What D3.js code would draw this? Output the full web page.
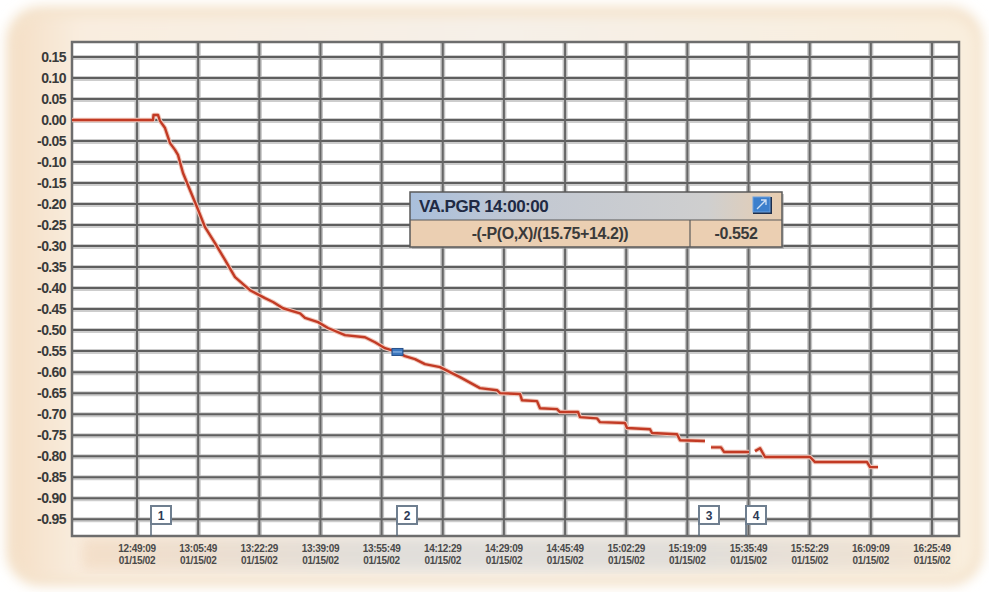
<!DOCTYPE html>
<html><head><meta charset="utf-8">
<script src="https://cdn.jsdelivr.net/npm/d3@7"></script>
<style>
html,body{margin:0;padding:0;background:#fff;}
svg{display:block;}
</style></head>
<body>
<svg id="chart" width="989" height="592"></svg>
<script>
// ---------- data ----------
const times = ["12:31:26","12:53:31","12:53:39","12:54:52","12:55:25","12:56:47","12:58:09","12:59:30","13:00:19","13:01:41",
"13:03:36","13:05:30","13:07:41","13:10:25","13:13:08","13:15:52","13:19:57","13:24:02","13:26:13","13:28:57",
"13:33:35","13:34:56","13:38:29","13:41:12","13:45:50","13:51:17","13:54:01","13:56:45","14:00:00","14:02:12",
"14:04:55","14:07:39","14:11:44","14:14:27","14:17:11","14:22:38","14:27:16","14:28:05","14:33:32","14:34:05",
"14:38:10","14:38:59","14:43:37","14:44:26","14:49:21","14:49:53","14:54:31","14:55:20","15:02:09","15:02:42",
"15:08:58","15:09:31","15:16:20","15:17:09","15:23:57","15:24:30","15:25:35","15:28:19","15:29:08","15:35:57",
"15:36:46","15:37:35","15:38:57","15:40:19","15:52:35","15:53:56","16:08:07","16:08:56","16:11:07"];
const values = [0.000,0.000,0.012,0.012,-0.002,-0.019,-0.055,-0.071,-0.083,-0.126,
-0.167,-0.207,-0.255,-0.293,-0.333,-0.374,-0.405,-0.424,-0.433,-0.448,
-0.460,-0.471,-0.481,-0.495,-0.512,-0.517,-0.529,-0.543,-0.552,-0.562,
-0.569,-0.581,-0.588,-0.600,-0.612,-0.638,-0.643,-0.650,-0.652,-0.667,
-0.669,-0.686,-0.688,-0.695,-0.695,-0.707,-0.710,-0.719,-0.721,-0.733,
-0.736,-0.745,-0.748,-0.762,-0.764,null,-0.779,-0.779,-0.790,-0.790,
null,-0.788,-0.781,-0.802,-0.802,-0.814,-0.814,-0.826,-0.826];
const yTicks = [0.15,0.10,0.05,0.00,-0.05,-0.10,-0.15,-0.20,-0.25,-0.30,-0.35,-0.40,-0.45,-0.50,-0.55,-0.60,-0.65,-0.70,-0.75,-0.80,-0.85,-0.90,-0.95];
const xTickTimes = ["12:49:09","13:05:49","13:22:29","13:39:09","13:55:49","14:12:29","14:29:09","14:45:49","15:02:29","15:19:09","15:35:49","15:52:29","16:09:09","16:25:49"];
const xTickDate = "01/15/02";
const flagTimes = ["12:52:58","14:00:00","15:22:19","15:35:08"];
const flagLabels = ["1","2","3","4"];
const domainTimes = ["12:31:26","16:33:11"];
const yDomain = [-0.990, 0.1857];
const tipTitle = "VA.PGR 14:00:00";
const tipFormula = "-(-P(O,X)/(15.75+14.2))";
const tipValue = -0.552;
const tipTime = "14:00:00";

// ---------- layout ----------
const FONT = "'Liberation Sans Narrow','Arial Narrow','Liberation Sans',Arial,sans-serif";
const parse = d3.timeParse("%H:%M:%S");
const svg = d3.select("#chart");
const L = 72, T = 42, R = 959, B = 536;
const x = d3.scaleTime().domain(domainTimes.map(parse)).range([L, R]);
const y = d3.scaleLinear().domain(yDomain).range([B, T]);

const defs = svg.append("defs");
const blur = defs.append("filter").attr("id","blur").attr("x","-10%").attr("y","-10%").attr("width","120%").attr("height","120%");
blur.append("feGaussianBlur").attr("stdDeviation", 6);
const g1 = defs.append("linearGradient").attr("id","panelGrad").attr("x1",0).attr("x2",1).attr("y1",0).attr("y2",0);
g1.append("stop").attr("offset","0%").attr("stop-color","#f5dfc6");
g1.append("stop").attr("offset","7%").attr("stop-color","#f9eddf");
g1.append("stop").attr("offset","50%").attr("stop-color","#f6f0e8");
g1.append("stop").attr("offset","100%").attr("stop-color","#f9eedd");
const g2 = defs.append("linearGradient").attr("id","tipGrad").attr("x1",0).attr("x2",1).attr("y1",0).attr("y2",0);
g2.append("stop").attr("offset","0%").attr("stop-color","#a9bfdc");
g2.append("stop").attr("offset","30%").attr("stop-color","#c2c8d2");
g2.append("stop").attr("offset","80%").attr("stop-color","#cfcfcf");
g2.append("stop").attr("offset","100%").attr("stop-color","#e8cdb0");
const g3 = defs.append("linearGradient").attr("id","labGrad").attr("x1",0).attr("x2",1).attr("y1",0).attr("y2",0);
g3.append("stop").attr("offset","0%").attr("stop-color","#f3dcc4");
g3.append("stop").attr("offset","35%").attr("stop-color","#dcdad8");
g3.append("stop").attr("offset","70%").attr("stop-color","#dcdad8");
g3.append("stop").attr("offset","100%").attr("stop-color","#f1e2cf");

// panel
svg.append("rect").attr("x",6).attr("y",6).attr("width",977).attr("height",580).attr("rx",34)
  .attr("fill","#f4e3cc").attr("filter","url(#blur)");
svg.append("rect").attr("x",14).attr("y",16).attr("width",962).attr("height",562).attr("rx",28)
  .attr("fill","url(#panelGrad)").attr("filter","url(#blur)");
svg.append("rect").attr("x",L+10).attr("y",B+2).attr("width",R-L-20).attr("height",32)
  .attr("fill","url(#labGrad)").attr("filter","url(#blur)").attr("opacity",0.8);

// plot background
svg.append("rect").attr("x",L).attr("y",T).attr("width",R-L).attr("height",B-T).attr("fill","#ffffff");

// grid
const grid = svg.append("g");
yTicks.forEach(v => {
  grid.append("line").attr("x1",L).attr("x2",R).attr("y1",y(v)+0.5).attr("y2",y(v)+0.5)
    .attr("stroke","#cdcdcd").attr("stroke-width",5);
});
xTickTimes.forEach(t => {
  grid.append("line").attr("x1",x(parse(t))).attr("x2",x(parse(t))).attr("y1",T).attr("y2",B)
    .attr("stroke","#c4c4c4").attr("stroke-width",5);
});
yTicks.forEach(v => {
  grid.append("line").attr("x1",L).attr("x2",R).attr("y1",y(v)).attr("y2",y(v))
    .attr("stroke","#5e5e5e").attr("stroke-width",2);
});
xTickTimes.forEach(t => {
  grid.append("line").attr("x1",x(parse(t))).attr("x2",x(parse(t))).attr("y1",T).attr("y2",B)
    .attr("stroke","#666").attr("stroke-width",2);
});

// border
svg.append("rect").attr("x",L).attr("y",T).attr("width",R-L).attr("height",B-T)
  .attr("fill","none").attr("stroke","#6d6d6d").attr("stroke-width",2.5);

// y axis labels
const yAxis = d3.axisLeft(y).tickValues(yTicks).tickSize(0).tickPadding(6).tickFormat(d3.format(".2f"));
const ya = svg.append("g").attr("transform",`translate(${L},0)`).call(yAxis);
ya.select(".domain").remove();
ya.selectAll("text").attr("font-family",FONT)
  .attr("font-weight","bold").attr("font-size",14).attr("letter-spacing","-0.6px").attr("fill","#3a3a3a")
  .text(d => d3.format(".2f")(d).replace("−","-"));

// x axis labels
const xa = svg.append("g");
xTickTimes.forEach(t => {
  const tx = x(parse(t));
  const txt = xa.append("text").attr("x",tx).attr("y",552).attr("text-anchor","middle")
    .attr("font-family",FONT).attr("letter-spacing","-0.3px")
    .attr("font-weight","bold").attr("font-size",10).attr("fill","#4a4a4a");
  txt.append("tspan").attr("x",tx).attr("dy",0).text(t);
  txt.append("tspan").attr("x",tx).attr("dy",12).text(xTickDate);
});

// line
const pts = times.map((t,i) => ({t: parse(t), v: values[i]}));
const line = d3.line().defined(d => d.v !== null).x(d => x(d.t)).y(d => y(d.v));
svg.append("path").datum(pts).attr("d",line).attr("fill","none")
  .attr("stroke","#f0c8bc").attr("stroke-width",4.5).attr("stroke-linejoin","round");
svg.append("path").datum(pts).attr("d",line).attr("fill","none")
  .attr("stroke","#c23a24").attr("stroke-width",2.4).attr("stroke-linejoin","round");

// selected point marker
const mx = x(parse(tipTime)), my = y(tipValue);
svg.append("rect").attr("x",mx-5).attr("y",my-3.5).attr("width",11).attr("height",7)
  .attr("fill","#3d78bf").attr("stroke","#27508a").attr("stroke-width",1);
svg.append("line").attr("x1",mx-4).attr("x2",mx+5).attr("y1",my).attr("y2",my).attr("stroke","#9cc0e8").attr("stroke-width",1);

// flags
flagTimes.forEach((t,i) => {
  const fx = Math.round(x(parse(t)));
  const fg = svg.append("g");
  fg.append("line").attr("x1",fx).attr("x2",fx).attr("y1",B).attr("y2",506).attr("stroke","#5a6a7a").attr("stroke-width",1.5);
  fg.append("rect").attr("x",fx).attr("y",506).attr("width",20).attr("height",18)
    .attr("fill","#ffffff").attr("stroke","#6f7f90").attr("stroke-width",2);
  fg.append("text").attr("x",fx+10).attr("y",520).attr("text-anchor","middle")
    .attr("font-family","'Liberation Sans',Arial,sans-serif").attr("font-weight","bold")
    .attr("font-size",12).attr("fill","#2d3a55").text(flagLabels[i]);
});

// tooltip box
const tip = svg.append("g");
const TX = 410, TY = 192, TW = 372, TH1 = 28, TH2 = 27;
tip.append("rect").attr("x",TX+2).attr("y",TY+2).attr("width",TW).attr("height",TH1+TH2).attr("fill","#999").attr("opacity",0.5);
tip.append("rect").attr("x",TX).attr("y",TY).attr("width",TW).attr("height",TH1).attr("fill","url(#tipGrad)");
tip.append("rect").attr("x",TX).attr("y",TY+TH1).attr("width",TW).attr("height",TH2).attr("fill","#ebcfb2");
tip.append("rect").attr("x",TX).attr("y",TY).attr("width",TW).attr("height",TH1+TH2)
  .attr("fill","none").attr("stroke","#5a5a5a").attr("stroke-width",1.5);
tip.append("line").attr("x1",TX).attr("x2",TX+TW).attr("y1",TY+TH1).attr("y2",TY+TH1).attr("stroke","#5a5a5a").attr("stroke-width",1.2);
tip.append("line").attr("x1",690).attr("x2",690).attr("y1",TY+TH1).attr("y2",TY+TH1+TH2).attr("stroke","#5a5a5a").attr("stroke-width",1.2);
tip.append("text").attr("x",TX+9).attr("y",TY+20).attr("font-family",FONT).attr("letter-spacing","-0.5px")
  .attr("font-weight","bold").attr("font-size",17).attr("fill","#1f2a44").text(tipTitle);
tip.append("text").attr("x",(TX+690)/2).attr("y",TY+TH1+19).attr("text-anchor","middle")
  .attr("font-family",FONT).attr("letter-spacing","-0.4px")
  .attr("font-weight","bold").attr("font-size",16).attr("fill","#3a3a3a").text(tipFormula);
tip.append("text").attr("x",(690+TX+TW)/2).attr("y",TY+TH1+19).attr("text-anchor","middle")
  .attr("font-family",FONT).attr("letter-spacing","-0.4px")
  .attr("font-weight","bold").attr("font-size",16).attr("fill","#3a3a3a").text(d3.format(".3f")(tipValue).replace("−","-"));
// icon
tip.append("rect").attr("x",753).attr("y",197).attr("width",19).attr("height",17).attr("fill","#1f2e4a");
tip.append("rect").attr("x",753).attr("y",197).attr("width",17).attr("height",15).attr("fill","#3c7fcc").attr("stroke","#6aa0dd").attr("stroke-width",1);
tip.append("path").attr("d","M757,209 L766,200 M761,200 L766,200 L766,205").attr("stroke","#cfe0f5").attr("stroke-width",1.3).attr("fill","none");
</script>
</body></html>
